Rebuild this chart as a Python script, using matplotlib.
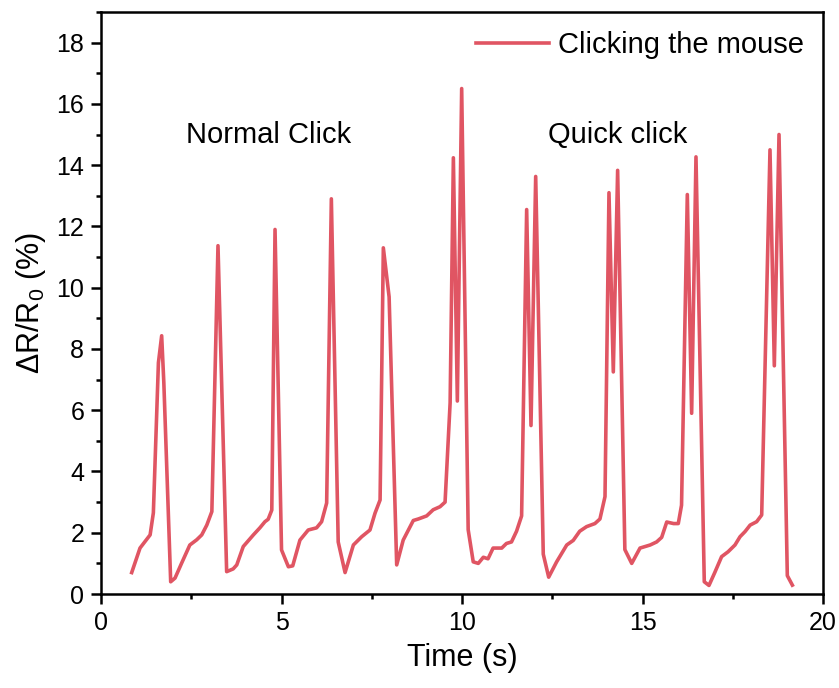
import matplotlib.pyplot as plt
from matplotlib.ticker import MultipleLocator

plt.rcParams['font.family'] = ['Liberation Sans', 'DejaVu Sans']
plt.rcParams['mathtext.fontset'] = 'custom'
plt.rcParams['mathtext.rm'] = 'Liberation Sans'

# time (s) and response (%)
time = [0.85, 1.08, 1.36, 1.45, 1.59, 1.68, 1.74, 1.93, 2.05, 2.23, 2.46, 2.65, 2.79, 2.93, 3.07,
        3.24, 3.48, 3.66, 3.76, 3.94, 4.22, 4.40, 4.54, 4.63, 4.73,
        4.82, 5.00, 5.19, 5.31, 5.51, 5.74, 5.97, 6.11, 6.25,
        6.38, 6.57, 6.76, 6.99, 7.22, 7.45, 7.59, 7.73,
        7.82, 7.98, 8.19, 8.37, 8.65, 8.79, 9.02, 9.20, 9.39, 9.53, 9.67,
        9.76, 9.87, 9.99, 10.17, 10.31, 10.45, 10.59, 10.72, 10.86, 11.10, 11.23, 11.37, 11.51, 11.65,
        11.79, 11.91, 12.04, 12.25, 12.40, 12.62, 12.90, 13.08, 13.26, 13.45, 13.68, 13.82, 13.96,
        14.07, 14.19, 14.31, 14.51, 14.70, 14.93, 15.21, 15.39, 15.53, 15.67, 15.86, 15.99, 16.08,
        16.24, 16.36, 16.48, 16.71, 16.84, 17.00, 17.19, 17.37, 17.56, 17.70, 17.84, 17.98, 18.16, 18.30,
        18.53, 18.65, 18.78, 19.01, 19.15]
resp = [0.70, 1.50, 1.93, 2.65, 7.55, 8.43, 6.9, 0.40, 0.52, 1.0, 1.6, 1.77, 1.93, 2.25, 2.69,
        11.37, 0.73, 0.82, 0.95, 1.55, 1.93, 2.16, 2.36, 2.44, 2.74,
        11.9, 1.44, 0.89, 0.92, 1.76, 2.09, 2.16, 2.36, 2.97,
        12.9, 1.70, 0.70, 1.6, 1.87, 2.09, 2.64, 3.07,
        11.3, 9.7, 0.95, 1.76, 2.40, 2.45, 2.55, 2.75, 2.85, 3.0, 6.24,
        14.24, 6.3, 16.5, 2.10, 1.05, 1.00, 1.20, 1.15, 1.50, 1.50, 1.65, 1.70, 2.05, 2.55,
        12.55, 5.5, 13.63, 1.30, 0.55, 1.05, 1.60, 1.75, 2.05, 2.20, 2.30, 2.45, 3.18,
        13.1, 7.25, 13.83, 1.45, 1.0, 1.50, 1.60, 1.70, 1.85, 2.35, 2.30, 2.30, 2.90,
        13.04, 5.9, 14.27, 0.40, 0.28, 0.70, 1.22, 1.38, 1.60, 1.87, 2.04, 2.25, 2.36, 2.58,
        14.5, 7.45, 15.0, 0.60, 0.29]

fig = plt.figure(figsize=(8.39, 6.88), dpi=100)
ax = fig.add_axes([0.1204, 0.1366, 0.8606, 0.846])

ax.plot(time, resp, color='#E05563', lw=2.6, label='Clicking the mouse')

ax.set_xlim(0, 20)
ax.set_ylim(0, 19)
ax.xaxis.set_major_locator(MultipleLocator(5))
ax.xaxis.set_minor_locator(MultipleLocator(2.5))
ax.yaxis.set_major_locator(MultipleLocator(2))
ax.yaxis.set_minor_locator(MultipleLocator(1))
ax.tick_params(which='major', direction='out', length=7, width=1.8, labelsize=18, pad=5)
ax.tick_params(which='minor', direction='out', length=3.5, width=1.8)
for s in ax.spines.values():
    s.set_linewidth(1.8)

ax.set_xlabel('Time (s)', fontsize=22, labelpad=6)
ax.set_ylabel(r'$\Delta$R/R$_0$ (%)', fontsize=22, labelpad=6)

ax.text(4.63, 15.0, 'Normal Click', fontsize=21, ha='center', va='center')
ax.text(14.3, 15.0, 'Quick click', fontsize=21, ha='center', va='center')

ax.legend(loc='upper right', frameon=False, fontsize=21, handlelength=2.5,
          handletextpad=0.3, borderaxespad=0.25)

fig.savefig('out.png')
